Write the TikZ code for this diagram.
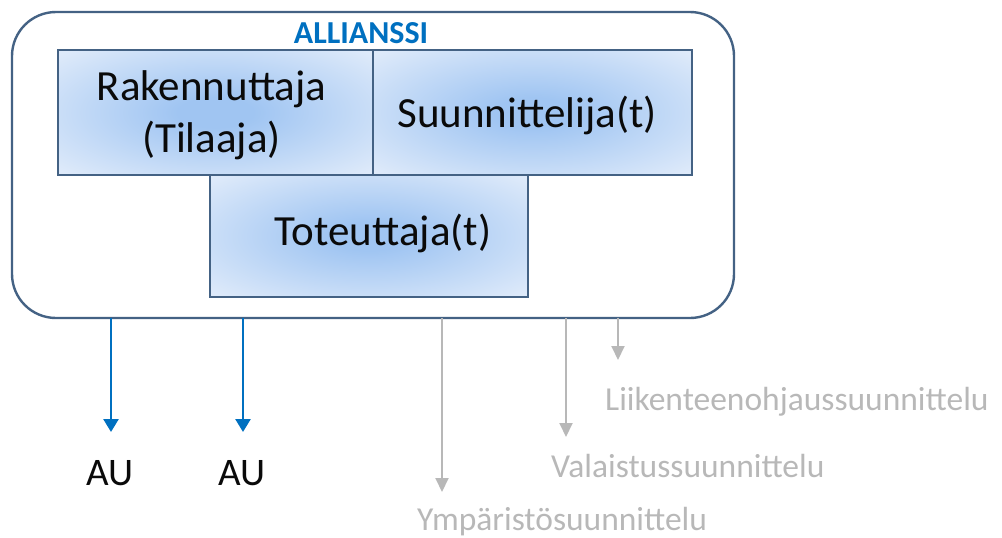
\documentclass[tikz,border=0pt]{standalone}
\usepackage{fontspec}
\setmainfont{Carlito}
\usetikzlibrary{arrows.meta}

\definecolor{frame}{RGB}{68,98,132}
\definecolor{alliblue}{RGB}{0,112,192}
\definecolor{boxmid}{RGB}{160,197,242}
\definecolor{boxedge}{RGB}{222,234,250}
\definecolor{softgray}{RGB}{184,184,184}
\definecolor{ink}{RGB}{10,10,10}

% soft glow from the middle of each party box towards its edges
\pgfdeclareradialshading{boxglow}{\pgfpoint{0bp}{0bp}}{%
  color(0bp)=(boxmid); color(6bp)=(boxmid); color(34bp)=(boxedge);
  color(50bp)=(boxedge)}

\begin{document}
\begin{tikzpicture}[x=1pt,y=-1pt,
  alliance/.style={draw=frame, line width=2.4pt, rounded corners=44pt,
    fill=white, inner sep=0pt, outer sep=0pt},
  partybox/.style={draw=frame, line width=2.2pt, shading=boxglow,
    inner sep=0pt, outer sep=0pt},
  partytext/.style={text=ink, font=\fontsize{43}{52}\selectfont,
    align=center, inner sep=0pt},
  titletext/.style={text=alliblue, font=\fontsize{32}{38}\selectfont\bfseries,
    inner sep=0pt},
  autext/.style={text=ink, font=\fontsize{39}{46}\selectfont, inner sep=0pt},
  designtext/.style={text=softgray, font=\fontsize{33.5}{40}\selectfont,
    inner sep=0pt},
  auarrow/.style={draw=alliblue, line width=2.6pt,
    -{Triangle[width=15pt,length=13pt]}},
  designarrow/.style={draw=softgray, line width=2pt,
    -{Triangle[width=13pt,length=14pt]}}]
\useasboundingbox (0,0) rectangle (1002,538);

% the alliance frame
\node[alliance, minimum width=722pt, minimum height=306pt] (alliance) at (373,165) {};
\node[titletext, anchor=base] (title) at (361,43) {ALLIANSSI};

% the three parties
\node[partybox, minimum width=315pt, minimum height=125pt] (rak) at (215.5,112.5) {};
\node[partybox, minimum width=319pt, minimum height=125pt] (suu) at (532.5,112.5) {};
\node[partybox, minimum width=318pt, minimum height=122pt] (tot) at (369,236) {};

\node[partytext, anchor=base] (raktext) at (211.5,152) {Rakennuttaja\\(Tilaaja)};
\node[partytext, anchor=base] (suutext) at (527,127.5) {Suunnittelija(t)};
\node[partytext, anchor=base] (tottext) at (383,245) {Toteuttaja(t)};

% contracts below the alliance
\node[autext, anchor=base] (au1) at (110,485) {AU};
\node[autext, anchor=base] (au2) at (242,485) {AU};
\coordinate (au1tip) at (111,432);
\coordinate (au2tip) at (243,432);
\draw[auarrow] (alliance.south -| au1tip) -- (au1tip);
\draw[auarrow] (alliance.south -| au2tip) -- (au2tip);

% separate design assignments
\node[designtext, anchor=base west] (liik) at (605,410) {Liikenteenohjaussuunnittelu};
\node[designtext, anchor=base west] (vala) at (551,477) {Valaistussuunnittelu};
\node[designtext, anchor=base west] (ymp) at (417,530) {Ympäristösuunnittelu};
\coordinate (liiktip) at (618,360);
\coordinate (valatip) at (566,437);
\coordinate (ymptip) at (442,492);
\draw[designarrow] (alliance.south -| liiktip) -- (liiktip);
\draw[designarrow] (alliance.south -| valatip) -- (valatip);
\draw[designarrow] (alliance.south -| ymptip) -- (ymptip);
\end{tikzpicture}
\end{document}
